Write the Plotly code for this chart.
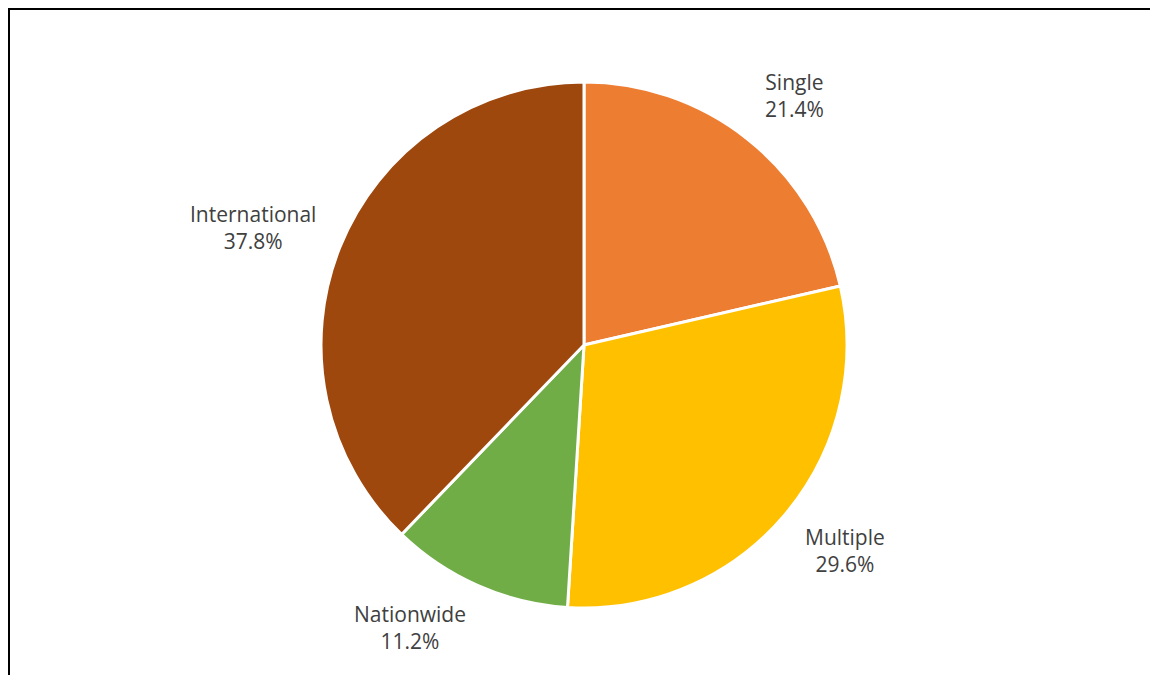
import math
import plotly.graph_objects as go

# Share of outlets by reach
categories = ["Single", "Multiple", "Nationwide", "International"]
shares = [21.4, 29.6, 11.2, 37.8]
colors = ["#ED7D31", "#FFC000", "#70AD47", "#9E480E"]

W, H = 1150, 675
cx, cy, r = 584, 345, 263  # pie centre and radius in pixels
label_gap = 24             # distance from the rim to the label box
# vertical nudge compensating the padding plotly puts around annotation text
ink_shift = {"bottom": -5, "middle": 10, "top": 10}

fig = go.Figure(
    go.Pie(
        labels=categories,
        values=shares,
        sort=False,
        direction="clockwise",
        rotation=0,
        marker=dict(colors=colors, line=dict(color="white", width=3)),
        textinfo="none",
        hoverinfo="label+value",
        showlegend=False,
        domain=dict(
            x=[(cx - r) / W, (cx + r) / W],
            y=[(H - cy - r) / H, (H - cy + r) / H],
        ),
    )
)

# Data labels placed just outside each slice, along its mid-angle
total = sum(shares)
start = 0.0
for name, val in zip(categories, shares):
    mid = 2 * math.pi * (start + val / 2) / total
    start += val
    s, c = math.sin(mid), math.cos(mid)
    px = cx + (r + label_gap) * s
    py = cy - (r + label_gap) * c
    xanchor = "left" if s > 0.1 else ("right" if s < -0.1 else "center")
    yanchor = "bottom" if c > 0.5 else ("top" if c < -0.5 else "middle")
    fig.add_annotation(
        x=px / W, y=1 - py / H, xref="paper", yref="paper",
        text=f"{name}<br>{val:.1f}%",
        showarrow=False, align="center",
        xanchor=xanchor, yanchor=yanchor, yshift=ink_shift[yanchor],
        font=dict(family="Open Sans", size=21, color="#404040"),
    )

# Chart frame
fig.add_shape(
    type="rect", xref="paper", yref="paper",
    x0=9 / W, x1=1.05, y0=-0.05, y1=1 - 9 / H,
    line=dict(color="black", width=2), fillcolor="rgba(0,0,0,0)",
)

fig.update_layout(
    width=W, height=H,
    margin=dict(l=0, r=0, t=0, b=0),
    paper_bgcolor="white", plot_bgcolor="white",
)

fig.write_html("out.html")
